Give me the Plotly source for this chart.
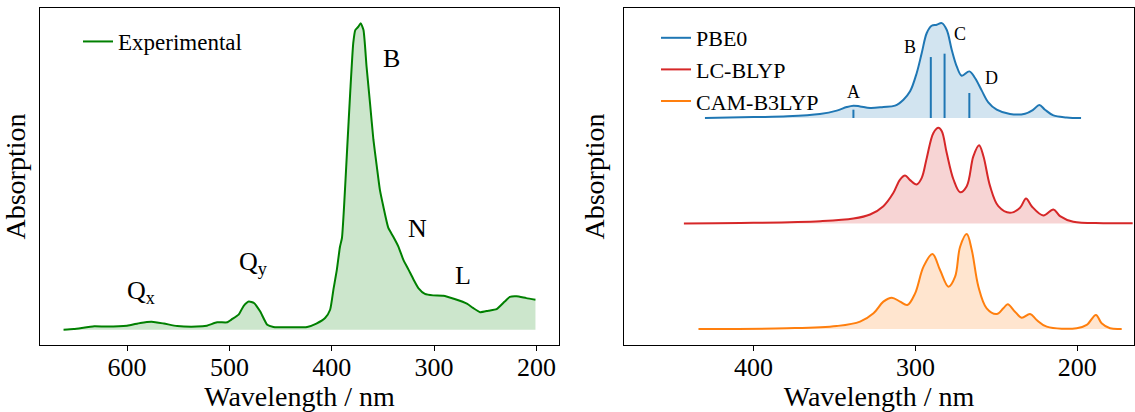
import plotly.graph_objects as go

# ---------------- data ----------------
exp_wl = [662, 652, 632, 620, 600, 587, 576, 564, 551, 532, 522, 512, 502, 498, 491, 486,
          481, 476, 470, 463, 457, 441, 424, 415, 406.5, 401.6, 398.4, 395, 392, 390, 388,
          385, 382, 379, 377, 374, 371.7, 369, 366, 362.6, 359.3, 356, 353, 349.6, 344.7,
          340, 335, 330, 325, 320, 315.4, 309, 301, 291, 280, 268, 262, 255, 247, 239,
          231, 226, 219.5, 210, 201]
exp_abs = [0.0, 0.002, 0.011, 0.010, 0.013, 0.022, 0.026, 0.020, 0.012, 0.010, 0.013, 0.024,
           0.024, 0.033, 0.049, 0.078, 0.092, 0.087, 0.060, 0.016, 0.009, 0.008, 0.009, 0.020,
           0.038, 0.065, 0.13, 0.196, 0.27, 0.30, 0.40, 0.587, 0.772, 0.935, 0.978, 0.989,
           1.0, 0.978, 0.859, 0.739, 0.62, 0.533, 0.457, 0.402, 0.332, 0.304, 0.272, 0.228,
           0.196, 0.163, 0.136, 0.117, 0.112, 0.111, 0.100, 0.085, 0.071, 0.057, 0.062,
           0.067, 0.092, 0.107, 0.109, 0.103, 0.098]

exp_labels = ["Q<sub>x</sub>", "Q<sub>y</sub>", "B", "N", "L"]
exp_label_wl = [586.5, 476.8, 341.7, 316.3, 271.9]
exp_label_y = [0.122, 0.217, 0.886, 0.330, 0.178]

pbe0_wl = [430, 400, 379, 359, 348.6, 342.4, 338.3, 334.2, 328, 319.8, 312.6, 307.4, 303.3,
           299.2, 296.1, 293, 290, 286.8, 283.7, 280.7, 277.6, 274.5, 271.4, 266.7, 263.2,
           259.1, 255, 249.8, 241.6, 232.3, 227.2, 223.5, 220, 214.8, 206.6, 197.7]
pbe0_abs = [0.0, 0.009, 0.016, 0.038, 0.070, 0.104, 0.117, 0.110, 0.095, 0.104, 0.117,
            0.174, 0.253, 0.427, 0.616, 0.806, 0.875, 0.885, 0.900, 0.837, 0.648, 0.490,
            0.401, 0.442, 0.379, 0.262, 0.149, 0.079, 0.038, 0.041, 0.079, 0.123, 0.079,
            0.025, 0.006, 0.0]

stick_wl = [338.3, 290.5, 282.0, 266.7]
stick_h = [0.079, 0.578, 0.610, 0.237]

pbe0_labels = ["A", "B", "C", "D"]
pbe0_label_wl = [338.3, 303.3, 272.4, 252.9]
pbe0_label_y = [0.243, 0.673, 0.796, 0.376]

lc_wl = [443, 400, 358.8, 338.3, 328, 319.8, 313.6, 309.5, 306.4, 303.3, 299.2, 296.1, 293,
         288.9, 285.8, 283.7, 280.7, 276.5, 272.4, 268.3, 264.2, 260.7, 258, 253.9, 248.8,
         241.6, 235.4, 231.7, 228.2, 221, 214.8, 210.7, 202.5, 184, 165.8]
lc_abs = [0.0, 0.006, 0.022, 0.047, 0.085, 0.164, 0.291, 0.417, 0.455, 0.411, 0.370, 0.433,
          0.622, 0.859, 0.907, 0.875, 0.670, 0.417, 0.297, 0.354, 0.638, 0.742, 0.638, 0.354,
          0.164, 0.101, 0.149, 0.237, 0.164, 0.076, 0.133, 0.070, 0.016, 0.003, 0.003]

cam_wl = [434, 379.4, 348.6, 334.2, 325.9, 319.8, 314.6, 309.5, 305, 300.2, 295, 289.5,
          284.8, 279.6, 275.5, 272.4, 268.3, 265.2, 261.1, 256, 249.8, 245.7, 243, 238.5,
          234.4, 229.2, 225.1, 218.9, 200.4, 194.2, 188.5, 185, 179.8, 172.6]
cam_abs = [0.0, 0.006, 0.028, 0.070, 0.149, 0.259, 0.297, 0.259, 0.227, 0.338, 0.591, 0.711,
           0.559, 0.401, 0.496, 0.780, 0.900, 0.749, 0.401, 0.196, 0.142, 0.196, 0.234,
           0.164, 0.107, 0.142, 0.085, 0.022, 0.006, 0.038, 0.133, 0.054, 0.006, 0.0]

series_names = ["PBE0", "LC-BLYP", "CAM-B3LYP"]
series_offsets = [2.0, 1.0, 0.0]

# ---------------- style ----------------
FONT = "Liberation Serif"
GREEN = "#008000"
COLORS = ["#1f77b4", "#d62728", "#ff7f0e"]
FILLS = ["rgba(31,119,180,0.2)", "rgba(214,39,40,0.2)", "rgba(255,127,14,0.2)"]

fig = go.Figure()

# left panel: experimental
fig.add_trace(go.Scatter(
    x=exp_wl, y=exp_abs, mode="lines", name="Experimental",
    line=dict(color=GREEN, width=2, shape="spline", smoothing=0.5),
    fill="tozeroy", fillcolor="rgba(0,128,0,0.2)", showlegend=False,
    legendgroup="exp", xaxis="x", yaxis="y"))
fig.add_trace(go.Scatter(
    x=[None], y=[None], mode="lines", name="Experimental",
    line=dict(color=GREEN, width=2), legendgroup="exp",
    xaxis="x", yaxis="y", legend="legend"))

# right panel: theory
series = [(pbe0_wl, pbe0_abs), (lc_wl, lc_abs), (cam_wl, cam_abs)]
for i, ((wl, ab), name, off) in enumerate(zip(series, series_names, series_offsets)):
    fig.add_trace(go.Scatter(
        x=[wl[0], wl[-1]], y=[off, off], mode="lines",
        line=dict(width=0, color=COLORS[i]), showlegend=False, hoverinfo="skip",
        legendgroup=name, xaxis="x2", yaxis="y2"))
    fig.add_trace(go.Scatter(
        x=wl, y=[v + off for v in ab], mode="lines", name=name,
        line=dict(color=COLORS[i], width=2, shape="spline", smoothing=1.0),
        fill="tonexty", fillcolor=FILLS[i], showlegend=False,
        legendgroup=name, xaxis="x2", yaxis="y2"))

# sticks for PBE0
sx, sy = [], []
for w, h in zip(stick_wl, stick_h):
    sx += [w, w, None]
    sy += [series_offsets[0], series_offsets[0] + h, None]
fig.add_trace(go.Scatter(x=sx, y=sy, mode="lines", line=dict(color=COLORS[0], width=2),
                         showlegend=False, hoverinfo="skip", legendgroup="PBE0",
                         xaxis="x2", yaxis="y2"))

# legend entries (line only) for the theory panel
for i, name in enumerate(series_names):
    fig.add_trace(go.Scatter(
        x=[None], y=[None], mode="lines", name=name,
        line=dict(color=COLORS[i], width=2), legendgroup=name,
        xaxis="x2", yaxis="y2", legend="legend2"))

annotations = []
for t, w, v in zip(exp_labels, exp_label_wl, exp_label_y):
    annotations.append(dict(text=t, x=w, y=v, xref="x", yref="y", showarrow=False,
                            xanchor="center", yanchor="middle",
                            font=dict(family=FONT, size=26, color="black")))
for t, w, v in zip(pbe0_labels, pbe0_label_wl, pbe0_label_y):
    annotations.append(dict(text=t, x=w, y=v + series_offsets[0], xref="x2", yref="y2",
                            showarrow=False, xanchor="center", yanchor="middle",
                            font=dict(family=FONT, size=18, color="black")))

W, H = 1135, 412
ML, MR, MT, MB = 40, 1, 8, 67
PW = W - ML - MR
PH = H - MT - MB
axis_common = dict(showline=True, linecolor="black", linewidth=1, mirror=True,
                   showgrid=False, zeroline=False, automargin=False)
xcommon = dict(axis_common, ticks="outside", ticklen=5, tickwidth=1, tickcolor="black",
               ticklabelstandoff=-6,
               tickfont=dict(family=FONT, size=26, color="black"),
               title=dict(text="Wavelength / nm", font=dict(family=FONT, size=28, color="black"),
                          standoff=8))
ycommon = dict(axis_common, showticklabels=False, ticks="",
               title=dict(text="Absorption", font=dict(family=FONT, size=28, color="black"),
                          standoff=10))

fig.update_layout(
    width=W, height=H, margin=dict(l=ML, r=MR, t=MT, b=MB),
    paper_bgcolor="white", plot_bgcolor="white",
    font=dict(family=FONT, color="black"),
    xaxis=dict(xcommon, domain=[0, (559 - ML) / PW], range=[685, 178],
               tickvals=[600, 500, 400, 300, 200], anchor="y"),
    yaxis=dict(ycommon, domain=[0, 1], range=[-0.05, 1.05], anchor="x"),
    xaxis2=dict(xcommon, domain=[(624 - ML) / PW, 1], range=[480, 165],
                tickvals=[400, 300, 200], anchor="y2"),
    yaxis2=dict(ycommon, domain=[0, 1], range=[-0.152, 3.043], anchor="x2"),
    legend=dict(x=(78 - ML) / PW, y=1 - (20 - MT) / PH,
                xanchor="left", yanchor="top", traceorder="normal",
                bgcolor="rgba(0,0,0,0)", font=dict(family=FONT, size=23, color="black")),
    legend2=dict(x=(656 - ML) / PW, y=1 - (17 - MT) / PH, xanchor="left", yanchor="top",
                 traceorder="normal",
                 bgcolor="rgba(0,0,0,0)", font=dict(family=FONT, size=22, color="black")),
    annotations=annotations,
    showlegend=True,
)

fig.write_html("out.html", config={"displayModeBar": False},
               post_script="document.body.style.margin='0';document.body.style.overflow='hidden';")
